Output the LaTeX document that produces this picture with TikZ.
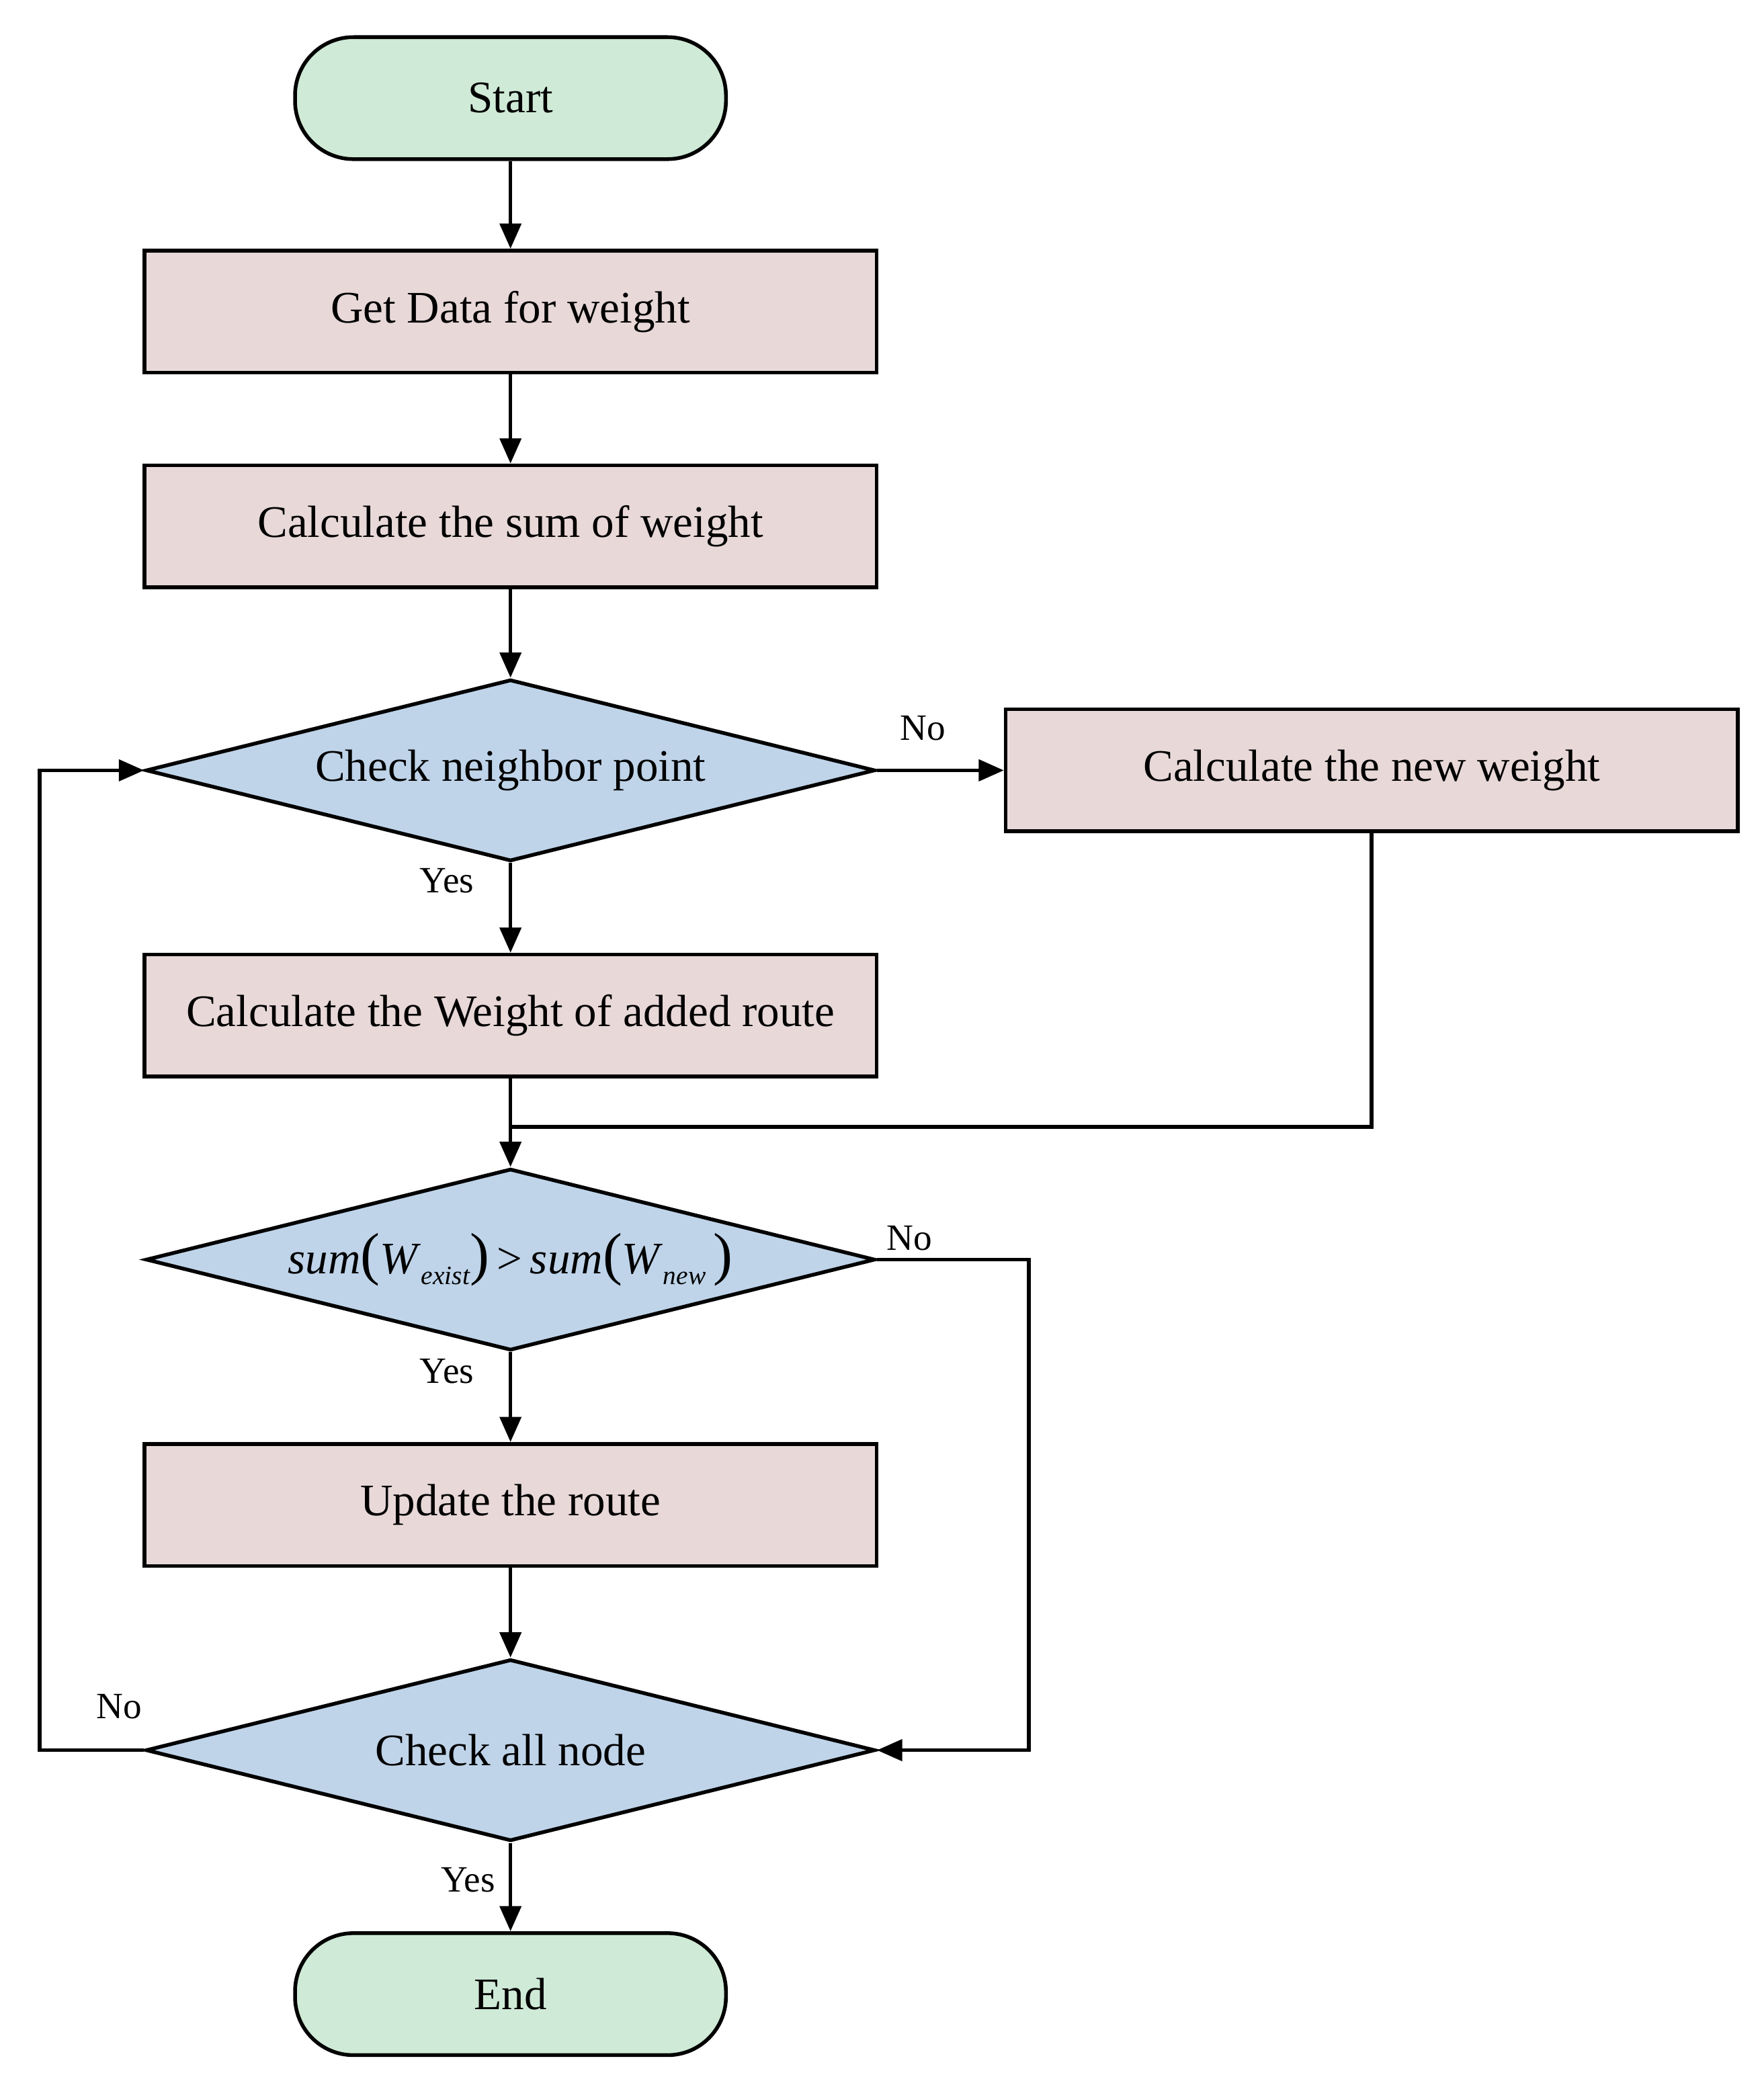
\documentclass[tikz,border=0pt]{standalone}
\usepackage{fontspec}
\setmainfont{Liberation Serif}
\usetikzlibrary{shapes.geometric,arrows.meta}
\definecolor{termfill}{RGB}{207,234,214}
\definecolor{procfill}{RGB}{232,216,216}
\definecolor{decfill}{RGB}{191,212,233}
\tikzset{
  base/.style={draw=black, line width=1.4pt, font=\fontsize{17}{20}\selectfont, inner sep=0pt},
  term/.style={base, fill=termfill, minimum width=162.5pt, minimum height=46pt, rounded corners=22pt},
  proc/.style={base, fill=procfill, rectangle, minimum width=276pt, minimum height=46pt},
  dec/.style={base, fill=decfill, diamond, aspect=4, minimum width=275pt, minimum height=68.5pt},
  conn/.style={draw=black, line width=1.4pt, -{Triangle[length=9.5pt,width=8pt]}},
  line/.style={draw=black, line width=1.4pt},
  lbl/.style={font=\fontsize{14}{16}\selectfont, inner sep=0pt}
}
\newcommand{\itx}[1]{\textit{#1}}
\begin{document}
\begin{tikzpicture}[x=0.5pt,y=-0.5pt]
\useasboundingbox (0,0) rectangle (1330,1565);
\node[term] (start) at (385,74) {Start};
\node[proc] (get) at (385,235) {Get Data for weight};
\node[proc] (sumw) at (385,397) {Calculate the sum of weight};
\node[dec] (chk) at (385,581) {Check neighbor point};
\node[proc] (neww) at (1034.5,581) {Calculate the new weight};
\node[proc] (add) at (385,766) {Calculate the Weight of added route};
\node[dec] (cmp) at (385,950) {\itx{sum}{\fontsize{22}{22}\selectfont(}\itx{W}\raisebox{-4pt}{\fontsize{10}{10}\selectfont\itx{exist}}{\fontsize{22}{22}\selectfont)}\,>\,\itx{sum}{\fontsize{22}{22}\selectfont(}\itx{W}\raisebox{-4pt}{\fontsize{10}{10}\selectfont\itx{new}}\,{\fontsize{22}{22}\selectfont)}};
\node[proc] (upd) at (385,1135) {Update the route};
\node[dec] (all) at (385,1320) {Check all node};
\node[term] (fin) at (385,1504) {End};

\coordinate (j) at (385,850);
\coordinate (r) at (776,1320);
\coordinate (l) at (30,581);

\draw[conn] (start) -- (get);
\draw[conn] (get) -- (sumw);
\draw[conn] (sumw) -- (chk);
\draw[conn] (chk.east) -- (neww.west);
\draw[conn] (chk.south) -- (add);
\draw[line] (add.south) -- (j);
\draw[line] (neww.south) |- (j);
\draw[conn] (j) -- (cmp.north);
\draw[conn] (cmp.south) -- (upd);
\draw[conn] (upd) -- (all.north);
\draw[conn] (cmp.east) -| (r) -- (all.east);
\draw[conn] (all.west) -| (l) -- (chk.west);
\draw[conn] (all.south) -- (fin);

\node[lbl] (l1) at (696,549) {No};
\node[lbl] (l2) at (337,664) {Yes};
\node[lbl] (l3) at (686,934) {No};
\node[lbl] (l4) at (337,1034) {Yes};
\node[lbl] (l5) at (90,1287) {No};
\node[lbl] (l6) at (353,1418) {Yes};
\end{tikzpicture}
\end{document}
